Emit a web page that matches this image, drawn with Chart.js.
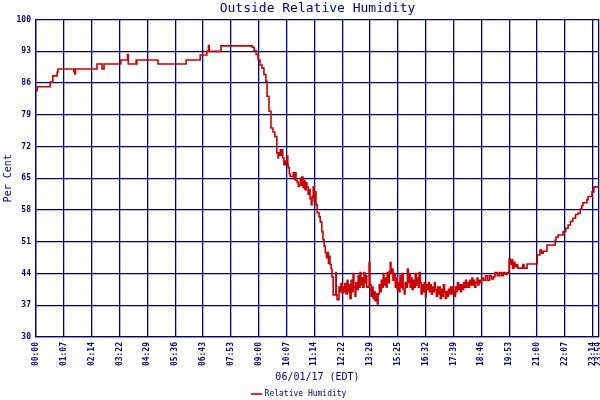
<!DOCTYPE html>
<html>
<head>
<meta charset="utf-8">
<script src="https://cdn.jsdelivr.net/npm/chart.js@4.4.1/dist/chart.umd.min.js"></script>
<style>
body { margin: 0; background: #fff; }
#wrap { width: 600px; height: 400px; }
</style>
</head>
<body>
<div id="wrap"><canvas id="humChart" width="600" height="400"></canvas></div>
<script>
// minutes into the day (axis units) and humidity readings
const minutes = [
    0, 3, 36, 43, 54, 56, 97, 99, 101, 156, 169, 174, 217, 234, 236, 256, 257, 258, 312, 384,
    420, 437, 441, 443, 473, 553, 558, 563, 568, 573, 578, 583, 588, 591, 596, 601, 606, 611, 616, 619,
    620, 622, 625, 627, 629, 631, 634, 638, 642, 644, 645, 648, 650, 655, 658, 660, 663, 665, 668, 671,
    673, 676, 678, 680, 683, 686, 688, 691, 693, 696, 698, 701, 704, 706, 709, 711, 714, 716, 719, 724,
    727, 731, 734, 737, 740, 743, 745, 748, 750, 752, 755, 757, 760, 764, 767, 768, 770, 773, 775, 778,
    780, 783, 785, 788, 790, 793, 796, 798, 801, 803, 806, 808, 811, 813, 816, 818, 821, 824, 826, 829,
    831, 834, 836, 839, 841, 844, 846, 852, 854, 857, 860, 862, 865, 867, 870, 873, 875, 878, 880, 883,
    885, 888, 890, 893, 896, 898, 901, 904, 906, 908, 911, 913, 916, 919, 921, 924, 926, 929, 931, 934,
    936, 939, 942, 944, 947, 950, 952, 955, 957, 960, 962, 965, 968, 970, 973, 975, 978, 980, 983, 985,
    988, 990, 993, 996, 998, 1001, 1004, 1006, 1009, 1011, 1014, 1016, 1019, 1021, 1024, 1027, 1029, 1032, 1034, 1037,
    1040, 1042, 1045, 1047, 1050, 1052, 1055, 1057, 1060, 1063, 1065, 1068, 1070, 1073, 1075, 1078, 1081, 1083, 1086, 1088,
    1091, 1094, 1096, 1099, 1101, 1104, 1107, 1109, 1112, 1115, 1117, 1120, 1122, 1125, 1128, 1130, 1133, 1136, 1140, 1145,
    1150, 1155, 1160, 1165, 1170, 1174, 1180, 1185, 1190, 1195, 1200, 1205, 1210, 1213, 1216, 1219, 1222, 1225, 1228, 1232,
    1240, 1245, 1248, 1251, 1256, 1282, 1289, 1293, 1297, 1307, 1328, 1330, 1335, 1348, 1355, 1361, 1367, 1373, 1380, 1386,
    1392, 1396, 1399, 1409, 1412, 1422, 1427, 1440
];
const humidity = [
    84.3, 85.2, 86.2, 87.6, 88.4, 89.1, 88.5, 88.0, 89.1, 90.2, 89.1, 90.2, 91.1, 92.3, 90.2, 91.1, 90.2, 91.1, 90.2, 91.1,
    92.2, 93.0, 94.3, 93.0, 94.2, 93.9, 93.2, 92.3, 91.1, 90.0, 89.3, 87.9, 86.4, 83.1, 79.8, 76.1, 75.2, 74.2, 70.6, 69.5,
    70.6, 70.1, 71.3, 70.1, 71.3, 69.5, 68.0, 68.8, 69.9, 68.0, 67.3, 66.0, 65.4, 65.4, 66.2, 64.8, 66.2, 64.5, 64.1, 63.2,
    63.6, 65.0, 63.5, 65.3, 63.0, 64.5, 62.5, 64.0, 63.1, 61.5, 62.5, 60.5, 59.2, 61.0, 63.1, 60.0, 62.0, 59.2, 57.4, 56.5,
    55.4, 53.2, 51.5, 50.0, 48.6, 47.5, 48.6, 46.3, 47.8, 46.0, 45.0, 43.3, 39.3, 39.3, 44.2, 39.3, 38.2, 38.2, 41.0, 40.0,
    41.8, 39.7, 41.0, 40.0, 41.8, 39.5, 42.5, 40.0, 41.5, 38.5, 42.5, 40.0, 44.0, 41.0, 39.0, 42.0, 40.5, 43.5, 41.0, 44.2,
    41.5, 43.0, 41.0, 44.2, 42.0, 43.5, 41.0, 46.4, 41.5, 39.0, 41.0, 38.5, 40.0, 38.0, 39.5, 37.3, 39.5, 41.5, 40.0, 42.5,
    41.0, 44.0, 41.5, 43.0, 41.0, 44.2, 42.0, 44.5, 46.4, 44.0, 45.0, 42.5, 44.0, 41.0, 43.0, 40.5, 42.0, 40.0, 43.5, 41.0,
    44.0, 40.5, 39.5, 42.0, 41.0, 45.0, 42.0, 44.0, 41.0, 43.0, 40.5, 42.5, 41.0, 44.0, 41.5, 43.0, 41.0, 44.2, 42.0, 39.5,
    41.5, 40.0, 42.0, 39.0, 41.5, 40.5, 42.0, 40.0, 41.5, 39.5, 41.0, 40.0, 42.0, 40.5, 39.0, 41.0, 39.5, 41.0, 38.5, 40.5,
    39.0, 41.5, 40.0, 38.5, 40.0, 39.0, 40.5, 39.5, 41.0, 39.5, 41.0, 40.0, 39.0, 41.0, 40.0, 42.0, 40.5, 41.5, 40.0, 41.5,
    40.5, 42.0, 41.0, 42.5, 41.0, 42.0, 41.0, 42.5, 41.5, 43.0, 41.5, 42.5, 41.0, 42.0, 43.0, 41.5, 42.5, 42.0, 43.0, 42.5,
    43.5, 42.5, 43.5, 42.8, 43.3, 44.2, 43.5, 44.2, 43.5, 44.2, 43.8, 44.2, 47.2, 46.0, 47.0, 45.2, 46.5, 45.5, 46.0, 45.2,
    45.2, 46.0, 45.2, 45.2, 46.1, 48.1, 49.2, 48.5, 48.9, 50.3, 51.4, 52.0, 52.5, 53.2, 54.0, 54.7, 55.5, 56.2, 57.0, 57.3,
    58.2, 59.0, 59.6, 60.3, 61.0, 62.0, 63.1, 63.1
];

// x tick marks (evenly spaced) and their printed labels
const tickPos = [0, 71.2, 142.4, 213.6, 284.8, 356, 427.2, 498.4, 569.6, 640.8, 712,
    783.2, 854.4, 925.6, 996.8, 1068, 1139.2, 1210.4, 1281.6, 1352.8, 1424, 1440];
const tickLabels = ['00:00', '01:07', '02:14', '03:22', '04:29', '05:36', '06:43', '07:53', '09:00', '10:07', '11:14',
    '12:22', '13:29', '15:25', '16:32', '17:39', '18:46', '19:53', '21:00', '22:07', '23:14', '23:59'];
const yTicks = [30, 37, 44, 51, 58, 65, 72, 79, 86, 93, 100];

const navy = '#000080';
const mono = 'DejaVu Sans Mono';

const points = minutes.map(function(m, i) {
    return { x: m, y: humidity[i] };
});

new Chart(document.getElementById('humChart'), {
    type: 'line',
    data: {
        datasets: [{
            label: 'Relative Humidity',
            data: points,
            borderColor: '#cc0000',
            backgroundColor: '#cc0000',
            borderWidth: 1.6,
            pointRadius: 0,
            stepped: true,
            fill: false
        }]
    },
    options: {
        responsive: false,
        animation: false,
        layout: { padding: { right: 1, left: 0, top: 0, bottom: 0 } },
        plugins: {
            title: {
                display: true,
                text: 'Outside Relative Humidity',
                fullSize: false,
                color: navy,
                font: { family: mono, size: 13, weight: 'normal' },
                padding: { top: 1, bottom: 3 }
            },
            legend: {
                position: 'bottom',
                maxHeight: 12,
                labels: {
                    color: navy,
                    font: { family: mono, size: 8 },
                    usePointStyle: true,
                    pointStyle: 'line',
                    boxWidth: 14,
                    padding: 2
                }
            },
            tooltip: { enabled: false }
        },
        scales: {
            x: {
                type: 'linear',
                min: 0,
                max: 1440,
                afterBuildTicks: function(scale) {
                    scale.ticks = tickPos.map(function(v) { return { value: v }; });
                },
                afterFit: function(scale) {
                    scale.height = 51;
                    scale.paddingLeft = 0;
                    scale.paddingRight = 0;
                },
                ticks: {
                    autoSkip: false,
                    minRotation: 90,
                    maxRotation: 90,
                    color: navy,
                    padding: 5,
                    font: { family: mono, size: 8, weight: 'bold' },
                    callback: function(val, idx) { return tickLabels[idx]; }
                },
                grid: { color: navy, lineWidth: 1.3, drawTicks: false },
                border: { color: navy, width: 1.3 },
                title: {
                    display: true,
                    text: '06/01/17 (EDT)',
                    color: navy,
                    font: { family: mono, size: 10 },
                    padding: { top: 5, bottom: 5 }
                }
            },
            y: {
                min: 30,
                max: 100,
                afterBuildTicks: function(scale) {
                    scale.ticks = yTicks.map(function(v) { return { value: v }; });
                },
                afterFit: function(scale) {
                    scale.width = 36;
                },
                ticks: {
                    color: navy,
                    padding: 5,
                    font: { family: mono, size: 8, weight: 'bold' }
                },
                grid: { color: navy, lineWidth: 1.3, drawTicks: false },
                border: { color: navy, width: 1.3 },
                title: {
                    display: true,
                    text: 'Per Cent',
                    color: navy,
                    font: { family: mono, size: 10 },
                    padding: { top: 2, bottom: 0 }
                }
            }
        }
    }
});
</script>
</body>
</html>
